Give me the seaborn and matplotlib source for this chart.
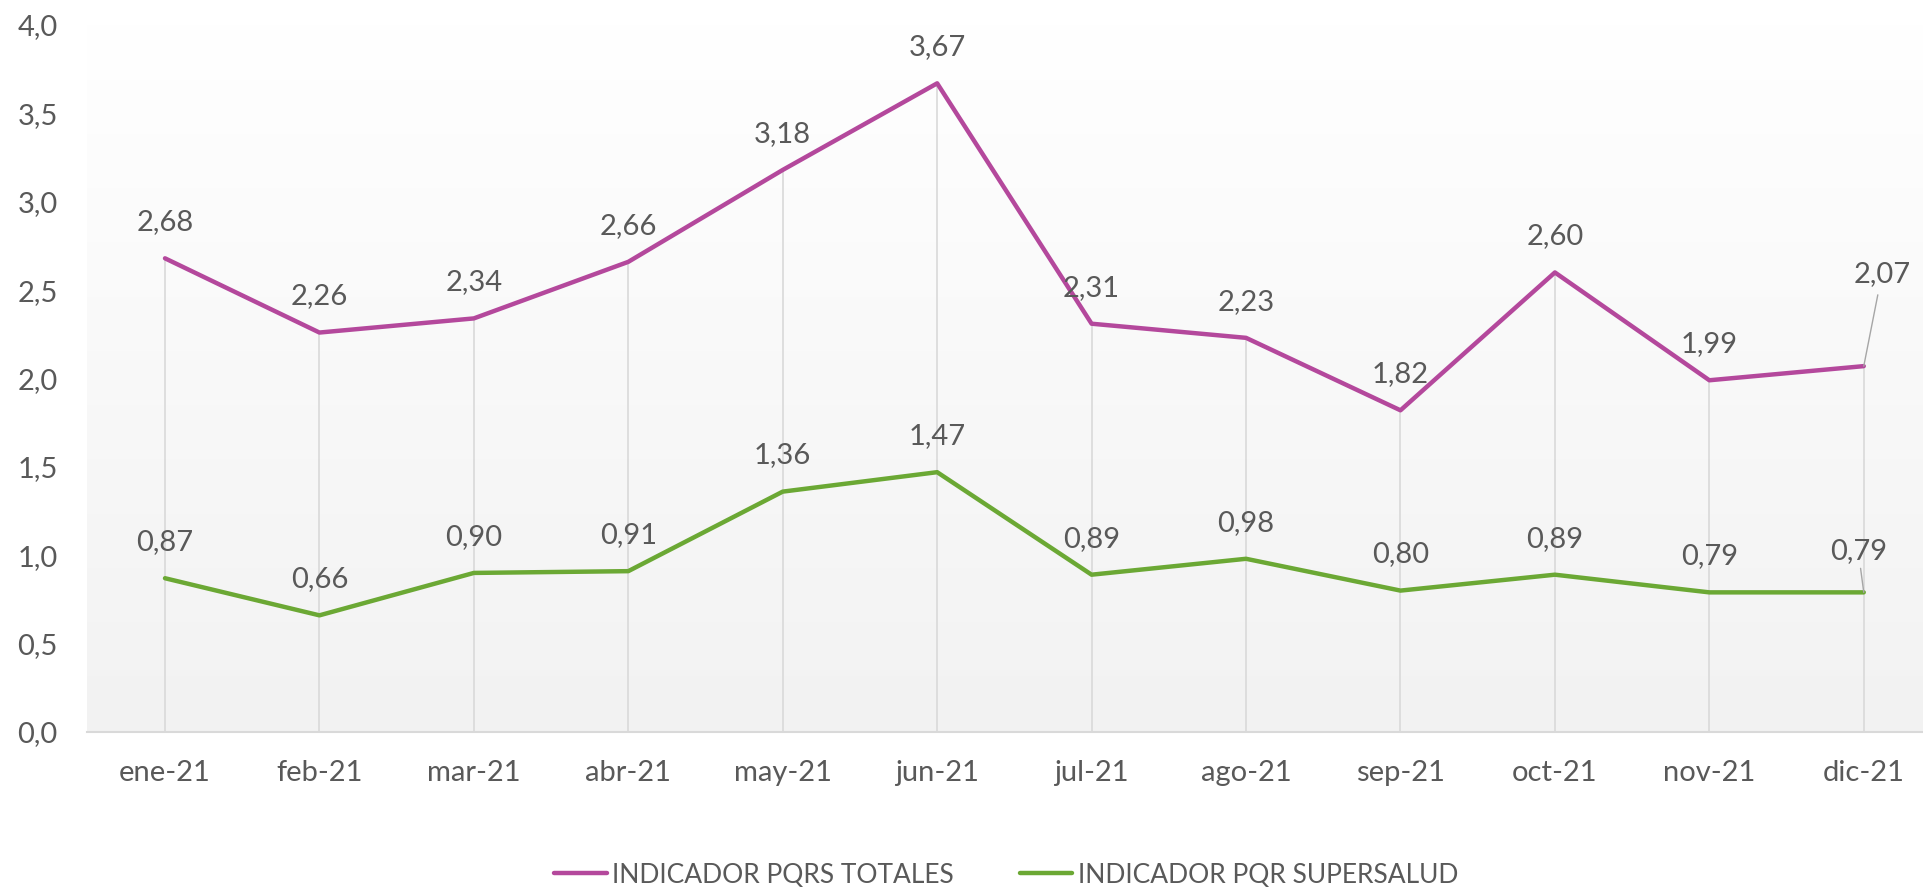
import numpy as np
import pandas as pd
import matplotlib
matplotlib.use("Agg")
import matplotlib.pyplot as plt
from matplotlib.colors import LinearSegmentedColormap
from matplotlib.lines import Line2D
import seaborn as sns

months = ["ene-21", "feb-21", "mar-21", "abr-21", "may-21", "jun-21",
          "jul-21", "ago-21", "sep-21", "oct-21", "nov-21", "dic-21"]
totales = [2.68, 2.26, 2.34, 2.66, 3.18, 3.67, 2.31, 2.23, 1.82, 2.60, 1.99, 2.07]
supersalud = [0.87, 0.66, 0.90, 0.91, 1.36, 1.47, 0.89, 0.98, 0.80, 0.89, 0.79, 0.79]
series_names = ["INDICADOR PQRS TOTALES", "INDICADOR PQR SUPERSALUD"]
colors = ["#B4489C", "#6BA834"]
yticks = [0.0, 0.5, 1.0, 1.5, 2.0, 2.5, 3.0, 3.5, 4.0]

sns.set_theme(style="white")
plt.rcParams["font.family"] = ["Lato", "DejaVu Sans"]

W, H = 1924, 888
fig = plt.figure(figsize=(W / 100, H / 100), dpi=100)
ax = fig.add_axes([87 / W, (H - 732) / H, (W - 87) / W, (732 - 25) / H])

x = np.arange(len(months))
df = pd.DataFrame({
    "x": np.concatenate([x, x]),
    "value": totales + supersalud,
    "serie": [series_names[0]] * len(months) + [series_names[1]] * len(months),
})

xmin, xmax = -0.505, 11.39

# gradient background
grad = np.linspace(0, 1, 256).reshape(-1, 1)
cmap = LinearSegmentedColormap.from_list("bg", ["#F2F2F2", "#FFFFFF"])
ax.imshow(grad, extent=[xmin, xmax, 0, 4.0], origin="lower", aspect="auto",
          cmap=cmap, zorder=0)

# drop lines
ax.vlines(x, 0, totales, color="#D9D9D9", lw=1.2, zorder=1)

sns.lineplot(data=df, x="x", y="value", hue="serie", palette=colors,
             hue_order=series_names, lw=3.2, ax=ax, legend=False, zorder=3)

txtc = "#595959"
fs = 21
for i, v in enumerate(totales):
    lab = f"{v:.2f}".replace(".", ",")
    if i == len(totales) - 1:
        ax.annotate(lab, (i, v), xytext=(13, 66), textcoords="offset points",
                    ha="center", va="center", fontsize=fs, color=txtc,
                    arrowprops=dict(arrowstyle="-", color="#A6A6A6", lw=1.0,
                                    shrinkA=3, shrinkB=0))
    else:
        ax.annotate(lab, (i, v), xytext=(0, 26), textcoords="offset points",
                    ha="center", va="center", fontsize=fs, color=txtc)
for i, v in enumerate(supersalud):
    lab = f"{v:.2f}".replace(".", ",")
    if i == len(supersalud) - 1:
        ax.annotate(lab, (i, v), xytext=(-4, 30), textcoords="offset points",
                    ha="center", va="center", fontsize=fs, color=txtc,
                    arrowprops=dict(arrowstyle="-", color="#A6A6A6", lw=1.0,
                                    shrinkA=1, shrinkB=0))
    else:
        ax.annotate(lab, (i, v), xytext=(0, 26), textcoords="offset points",
                    ha="center", va="center", fontsize=fs, color=txtc)

ax.set_xlim(xmin, xmax)
ax.set_ylim(0, 4.0)
ax.set_yticks(yticks)
ax.set_yticklabels([f"{t:.1f}".replace(".", ",") for t in yticks])
ax.set_xticks(x)
ax.set_xticklabels(months)
ax.set_xticks(np.arange(-0.5, 11.0, 1.0), minor=True)
ax.tick_params(axis="x", which="major", length=0, pad=20, labelsize=fs, labelcolor=txtc)
ax.tick_params(axis="x", which="minor", length=7.5, width=1.2, color="#D9D9D9", direction="out")
ax.tick_params(axis="y", length=0, pad=21, labelsize=fs, labelcolor=txtc)
ax.set_xlabel("")
ax.set_ylabel("")
for s in ["top", "right", "left"]:
    ax.spines[s].set_visible(False)
ax.spines["bottom"].set_color("#D9D9D9")
ax.spines["bottom"].set_linewidth(1.5)
ax.spines["bottom"].set_zorder(2)
ax.grid(False)

handles = [Line2D([0], [0], color=c, lw=3.2) for c in colors]
leg = fig.legend(handles, series_names, loc="center", bbox_to_anchor=(1006 / W, 13 / H),
                 ncol=2, frameon=False, handlelength=2.0, handletextpad=0.2,
                 columnspacing=2.5, borderaxespad=0,
                 prop={"family": ["Lato", "DejaVu Sans"], "size": 19})
for t in leg.get_texts():
    t.set_color(txtc)

fig.savefig("out.png", dpi=100)
